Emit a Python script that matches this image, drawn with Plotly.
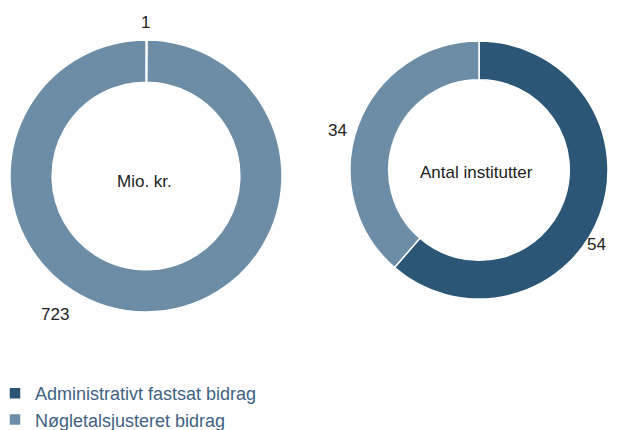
import plotly.graph_objects as go

categories = ["Administrativt fastsat bidrag", "Nøgletalsjusteret bidrag"]
mio_kr = [1, 723]
antal_institutter = [54, 34]
center_titles = ["Mio. kr.", "Antal institutter"]
colors = ["#2c5675", "#6d8ca6"]

OFF = 8  # default page body margin
W, H = 617 - OFF, 430 - OFF

def px(x):
    return (x - OFF) / W

def py(y):
    return 1 - (y - OFF) / H

fig = go.Figure()
fig.add_trace(go.Pie(
    labels=categories, values=mio_kr, hole=0.69, sort=False,
    direction="clockwise", rotation=0, textinfo="none", hoverinfo="label+value",
    marker=dict(colors=colors, line=dict(color="white", width=1.5)),
    domain=dict(x=[px(10), px(282)], y=[py(312), py(40)]),
))
fig.add_trace(go.Pie(
    labels=categories, values=antal_institutter, hole=0.70, sort=False,
    direction="clockwise", rotation=0, textinfo="none", hoverinfo="label+value",
    marker=dict(colors=colors, line=dict(color="white", width=1.5)),
    domain=dict(x=[px(350), px(608)], y=[py(299), py(41)]),
))

lab_font = dict(family="Liberation Sans, Arial, sans-serif", size=17, color="#222222")
annotations = [
    dict(x=px(144), y=py(181), text=center_titles[0]),
    dict(x=px(477), y=py(172.5), text=center_titles[1]),
    dict(x=px(145), y=py(22), text=str(mio_kr[0])),
    dict(x=px(55), y=py(314), text=str(mio_kr[1])),
    dict(x=px(608), y=py(244), text=str(antal_institutter[0]), xanchor="right"),
    dict(x=px(337), y=py(130), text=str(antal_institutter[1])),
]
for a in annotations:
    a.setdefault("xanchor", "center")
    a.update(xref="paper", yref="paper", showarrow=False, font=lab_font,
             yanchor="middle")

fig.update_layout(
    width=W, height=H,
    margin=dict(l=0, r=0, t=0, b=0, autoexpand=False),
    paper_bgcolor="white", plot_bgcolor="white",
    annotations=annotations,
    showlegend=True,
    legend=dict(
        x=px(-5), xanchor="left", y=py(375), yanchor="top",
        orientation="v", traceorder="normal",
        font=dict(family="Liberation Sans, Arial, sans-serif", size=18, color="#3f6283"),
        bgcolor="rgba(0,0,0,0)",
    ),
)

fig.write_html("out.html")
